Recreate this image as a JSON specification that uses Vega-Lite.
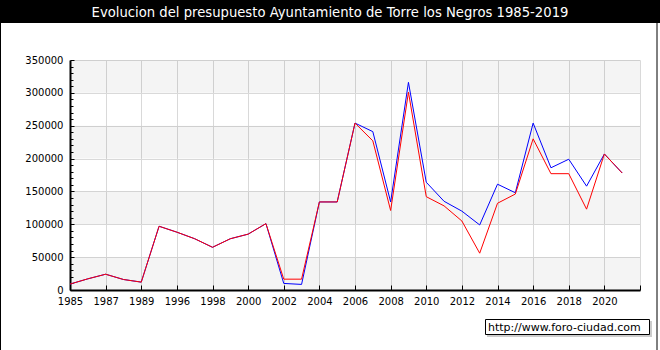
{
  "$schema": "https://vega.github.io/schema/vega-lite/v6.json",
  "width": 570,
  "height": 230,
  "autosize": {"type": "none"},
  "padding": {"left": 70, "top": 60, "right": 20, "bottom": 60},
  "background": "white",
  "config": {
    "view": {"stroke": null},
    "font": "DejaVu Sans",
    "axis": {"labelFont": "DejaVu Sans", "labelFontSize": 10, "labelColor": "black", "labelOverlap": false, "labelBound": false, "labelFlush": false}
  },
  "resolve": {"axis": {"y": "independent"}},
  "datasets": {
    "presupuesto": [
      {"year": "1985", "serie": "ingresos", "value": 9000},
      {"year": "1986", "serie": "ingresos", "value": 17000},
      {"year": "1987", "serie": "ingresos", "value": 24000},
      {"year": "1988", "serie": "ingresos", "value": 16000},
      {"year": "1989", "serie": "ingresos", "value": 12000},
      {"year": "1995", "serie": "ingresos", "value": 97000},
      {"year": "1996", "serie": "ingresos", "value": 88000},
      {"year": "1997", "serie": "ingresos", "value": 78000},
      {"year": "1998", "serie": "ingresos", "value": 65000},
      {"year": "1999", "serie": "ingresos", "value": 78000},
      {"year": "2000", "serie": "ingresos", "value": 85000},
      {"year": "2001", "serie": "ingresos", "value": 101000},
      {"year": "2002", "serie": "ingresos", "value": 10000},
      {"year": "2003", "serie": "ingresos", "value": 8500},
      {"year": "2004", "serie": "ingresos", "value": 134000},
      {"year": "2005", "serie": "ingresos", "value": 134000},
      {"year": "2006", "serie": "ingresos", "value": 254000},
      {"year": "2007", "serie": "ingresos", "value": 241000},
      {"year": "2008", "serie": "ingresos", "value": 134000},
      {"year": "2009", "serie": "ingresos", "value": 316000},
      {"year": "2010", "serie": "ingresos", "value": 164000},
      {"year": "2011", "serie": "ingresos", "value": 135000},
      {"year": "2012", "serie": "ingresos", "value": 120000},
      {"year": "2013", "serie": "ingresos", "value": 99000},
      {"year": "2014", "serie": "ingresos", "value": 161000},
      {"year": "2015", "serie": "ingresos", "value": 148000},
      {"year": "2016", "serie": "ingresos", "value": 254000},
      {"year": "2017", "serie": "ingresos", "value": 186000},
      {"year": "2018", "serie": "ingresos", "value": 199000},
      {"year": "2019", "serie": "ingresos", "value": 158000},
      {"year": "2020", "serie": "ingresos", "value": 207000},
      {"year": "2021", "serie": "ingresos", "value": 178000},
      {"year": "1985", "serie": "gastos", "value": 9000},
      {"year": "1986", "serie": "gastos", "value": 17000},
      {"year": "1987", "serie": "gastos", "value": 24000},
      {"year": "1988", "serie": "gastos", "value": 16000},
      {"year": "1989", "serie": "gastos", "value": 12000},
      {"year": "1995", "serie": "gastos", "value": 97000},
      {"year": "1996", "serie": "gastos", "value": 88000},
      {"year": "1997", "serie": "gastos", "value": 78000},
      {"year": "1998", "serie": "gastos", "value": 65000},
      {"year": "1999", "serie": "gastos", "value": 78000},
      {"year": "2000", "serie": "gastos", "value": 85000},
      {"year": "2001", "serie": "gastos", "value": 101000},
      {"year": "2002", "serie": "gastos", "value": 16500},
      {"year": "2003", "serie": "gastos", "value": 16500},
      {"year": "2004", "serie": "gastos", "value": 134000},
      {"year": "2005", "serie": "gastos", "value": 134000},
      {"year": "2006", "serie": "gastos", "value": 254000},
      {"year": "2007", "serie": "gastos", "value": 227000},
      {"year": "2008", "serie": "gastos", "value": 121000},
      {"year": "2009", "serie": "gastos", "value": 301000},
      {"year": "2010", "serie": "gastos", "value": 142000},
      {"year": "2011", "serie": "gastos", "value": 128000},
      {"year": "2012", "serie": "gastos", "value": 105000},
      {"year": "2013", "serie": "gastos", "value": 56000},
      {"year": "2014", "serie": "gastos", "value": 132000},
      {"year": "2015", "serie": "gastos", "value": 146000},
      {"year": "2016", "serie": "gastos", "value": 230000},
      {"year": "2017", "serie": "gastos", "value": 177000},
      {"year": "2018", "serie": "gastos", "value": 177000},
      {"year": "2019", "serie": "gastos", "value": 123000},
      {"year": "2020", "serie": "gastos", "value": 207000},
      {"year": "2021", "serie": "gastos", "value": 178000}
    ],
    "bands": [
      {"lo": 0, "hi": 50000},
      {"lo": 100000, "hi": 150000},
      {"lo": 200000, "hi": 250000},
      {"lo": 300000, "hi": 350000}
    ]
  },
  "layer": [
    {
      "data": {"values": [{}]},
      "mark": {"type": "rect", "fill": "black"},
      "encoding": {
        "x": {"value": -70},
        "x2": {"value": 590},
        "y": {"value": -60},
        "y2": {"value": -37}
      }
    },
    {
      "data": {"values": [{}]},
      "mark": {"type": "text", "font": "DejaVu Sans", "fontSize": 13.2, "color": "white", "align": "center", "baseline": "alphabetic"},
      "encoding": {
        "x": {"value": 260},
        "y": {"value": -43},
        "text": {"value": "Evolucion del presupuesto Ayuntamiento de Torre los Negros 1985-2019"}
      }
    },
    {
      "data": {"name": "bands"},
      "mark": {"type": "rect", "fill": "black", "fillOpacity": 0.043},
      "encoding": {
        "y": {
          "field": "lo",
          "type": "quantitative",
          "scale": {"domain": [0, 350000], "nice": false},
          "axis": {
            "orient": "left",
            "title": null,
            "values": [10000, 20000, 30000, 40000, 60000, 70000, 80000, 90000, 110000, 120000, 130000, 140000, 160000, 170000, 180000, 190000, 210000, 220000, 230000, 240000, 260000, 270000, 280000, 290000, 310000, 320000, 330000, 340000],
            "labels": false,
            "grid": false,
            "domain": false,
            "tickSize": -3,
            "tickColor": "black"
          }
        },
        "y2": {"field": "hi"}
      }
    },
    {
      "data": {"name": "presupuesto"},
      "transform": [{"filter": "datum.serie === 'ingresos'"}],
      "mark": {"type": "line", "color": "#0000ff", "strokeWidth": 1},
      "encoding": {
        "x": {
          "field": "year",
          "type": "ordinal",
          "scale": {"type": "point", "padding": 0, "domain": ["1985", "1986", "1987", "1988", "1989", "1995", "1996", "1997", "1998", "1999", "2000", "2001", "2002", "2003", "2004", "2005", "2006", "2007", "2008", "2009", "2010", "2011", "2012", "2013", "2014", "2015", "2016", "2017", "2018", "2019", "2020", "2021", "2022"]},
          "axis": {
            "title": null,
            "values": ["1985", "1987", "1989", "1996", "1998", "2000", "2002", "2004", "2006", "2008", "2010", "2012", "2014", "2016", "2018", "2020", "2022"],
            "labelExpr": "datum.value == '2022' ? '' : datum.value",
            "labelAngle": 0,
            "grid": true,
            "gridColor": "#d9d9d9",
            "tickSize": -5,
            "tickColor": "black",
            "domainColor": "black",
            "domainWidth": 2,
            "labelPadding": 11
          }
        },
        "y": {
          "field": "value",
          "type": "quantitative",
          "scale": {"domain": [0, 350000], "nice": false},
          "axis": {
            "orient": "left",
            "title": null,
            "values": [0, 50000, 100000, 150000, 200000, 250000, 300000, 350000],
            "format": "d",
            "grid": true,
            "gridColor": "#d9d9d9",
            "tickSize": -4,
            "tickColor": "black",
            "domainColor": "black",
            "domainWidth": 2,
            "labelPadding": 11
          }
        }
      }
    },
    {
      "data": {"name": "presupuesto"},
      "transform": [{"filter": "datum.serie === 'gastos'"}],
      "mark": {"type": "line", "color": "#ff0000", "strokeWidth": 1},
      "encoding": {
        "x": {"field": "year", "type": "ordinal"},
        "y": {"field": "value", "type": "quantitative", "axis": null}
      }
    },
    {
      "data": {"values": [{}]},
      "mark": {"type": "rule", "color": "black", "strokeWidth": 1},
      "encoding": {
        "x": {"value": -69.5},
        "y": {"value": -37},
        "y2": {"value": 290}
      }
    },
    {
      "data": {"values": [{}]},
      "mark": {"type": "rule", "color": "black", "strokeWidth": 1},
      "encoding": {
        "x": {"value": 587},
        "y": {"value": -37},
        "y2": {"value": 290}
      }
    },
    {
      "data": {"values": [{}]},
      "mark": {"type": "rect", "fill": "#cccccc"},
      "encoding": {
        "x": {"value": 417},
        "x2": {"value": 582},
        "y": {"value": 261},
        "y2": {"value": 277}
      }
    },
    {
      "data": {"values": [{}]},
      "mark": {"type": "rect", "fill": "white", "stroke": "black", "strokeWidth": 1},
      "encoding": {
        "x": {"value": 415.5},
        "x2": {"value": 579.5},
        "y": {"value": 259.5},
        "y2": {"value": 274.5}
      }
    },
    {
      "data": {"values": [{}]},
      "mark": {"type": "text", "font": "DejaVu Sans", "fontSize": 11, "color": "black", "align": "left", "baseline": "middle"},
      "encoding": {
        "x": {"value": 418},
        "y": {"value": 267.5},
        "text": {"value": "http://www.foro-ciudad.com"}
      }
    }
  ]
}
